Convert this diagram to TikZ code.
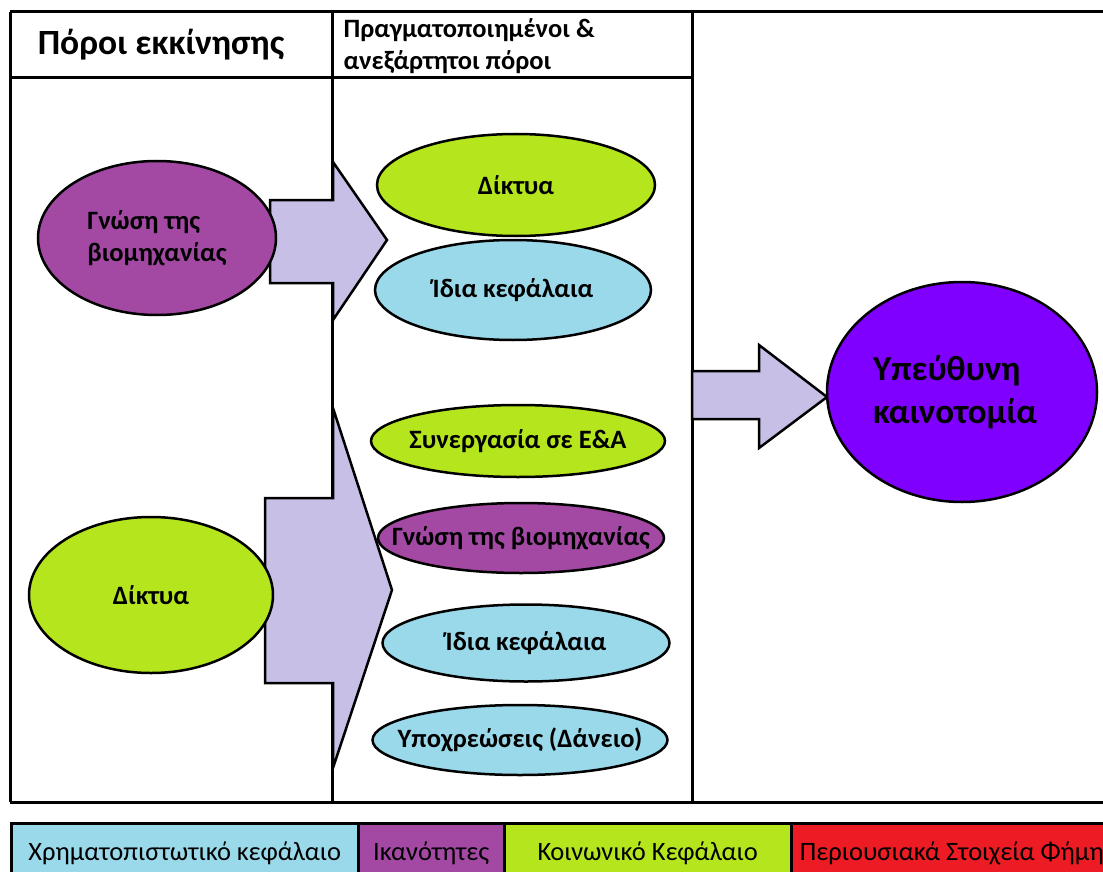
\documentclass[tikz,border=0pt]{standalone}
\usepackage{fontspec}
\setmainfont{Carlito}
\usetikzlibrary{shapes.geometric}

\definecolor{fundblue}{HTML}{99D9EA}
\definecolor{skillpurple}{HTML}{A349A4}
\definecolor{socialgreen}{HTML}{B5E61D}
\definecolor{famered}{HTML}{ED1C24}
\definecolor{arrowlilac}{HTML}{C8BFE7}
\definecolor{innoviolet}{HTML}{7F00FF}

\tikzset{
  frame/.style={line width=3pt},
  res/.style={ellipse, draw, line width=2.5pt, inner sep=0pt},
  restext/.style={inner sep=0pt, align=left, font=\bfseries\fontsize{26.5}{32}\selectfont},
  bigarrow/.style={draw, fill=arrowlilac, line width=2.5pt, line join=miter},
  legendbox/.style={draw, line width=2.5pt, anchor=north west, inner sep=0pt,
                    minimum height=60pt, font=\fontsize{26.5}{30}\selectfont}
}

\begin{document}
\begin{tikzpicture}[x=1pt, y=-1pt]
    \useasboundingbox (0,0) rectangle (1103,872);
    \clip (0,0) rectangle (1103,872);

    \draw[frame] (10,12) -- (1120,12);
    \draw[frame] (10,802) -- (1120,802);
    \draw[frame] (10,12) -- (10,802);
    \draw[frame] (332,12) -- (332,802);
    \draw[frame] (692,12) -- (692,802);
    \draw[frame] (10,78) -- (692,78);

    \node[font=\bfseries\fontsize{35.5}{40}\selectfont] (start) at (161,45) {Πόροι εκκίνησης};
    \node[anchor=west, align=left, font=\bfseries\fontsize{26.5}{32}\selectfont] (gained) at (340,46)
        {Πραγματοποιημένοι \&\\ανεξάρτητοι πόροι};

    \draw[bigarrow] (270,200) -- (333,200) -- (333,162) -- (387,240) -- (333,320) -- (333,283) -- (270,283) -- cycle;
    \draw[bigarrow] (265,498) -- (333,498) -- (333,408) -- (392,590) -- (333,768) -- (333,683) -- (265,683) -- cycle;
    \draw[bigarrow] (692,371) -- (759,371) -- (759,345) -- (827,397) -- (759,448) -- (759,419) -- (692,419) -- cycle;

    \node[res, fill=skillpurple, minimum width=238pt, minimum height=154pt,
          label={[restext]center:Γνώση της\\βιομηχανίας}] (know) at (157,238) {};
    \node[res, fill=socialgreen, minimum width=244pt, minimum height=156pt,
          label={[restext]center:Δίκτυα}] (net) at (151,595) {};

    \node[res, fill=socialgreen, minimum width=278pt, minimum height=102pt,
          label={[restext]center:Δίκτυα}] (net1) at (516,185) {};
    \node[res, fill=fundblue, minimum width=276pt, minimum height=100pt,
          label={[restext]center:Ίδια κεφάλαια}] (own1) at (513,290) {};

    \node[res, fill=socialgreen, minimum width=294pt, minimum height=72pt,
          label={[restext]center:Συνεργασία σε Ε\&Α}] (rnd) at (518,441) {};
    \node[res, fill=skillpurple, minimum width=286pt, minimum height=70pt,
          label={[restext]center:Γνώση της βιομηχανίας}] (know2) at (521,538) {};
    \node[res, fill=fundblue, minimum width=287pt, minimum height=77pt,
          label={[restext]center:Ίδια κεφάλαια}] (own2) at (526,643) {};
    \node[res, fill=fundblue, minimum width=295pt, minimum height=70pt,
          label={[restext]center:Υποχρεώσεις (Δάνειο)}] (loan) at (520,740) {};

    \node[res, fill=innoviolet, minimum width=270pt, minimum height=220pt,
          label={[restext, xshift=-7pt, font=\bfseries\fontsize{35}{43}\selectfont]center:Υπεύθυνη\\καινοτομία}]
          (resp) at (962,392) {};

    \node[legendbox, fill=fundblue, minimum width=347pt] (fin) at (10,822) {Χρηματοπιστωτικό κεφάλαιο};
    \node[legendbox, fill=skillpurple, minimum width=146pt] (abil) at (357,822) {Ικανότητες};
    \node[legendbox, fill=socialgreen, minimum width=287pt] (soc) at (503,822) {Κοινωνικό Κεφάλαιο};
    \node[legendbox, fill=famered, minimum width=332pt] (fame) at (790,822) {Περιουσιακά Στοιχεία Φήμης};
\end{tikzpicture}
\end{document}
